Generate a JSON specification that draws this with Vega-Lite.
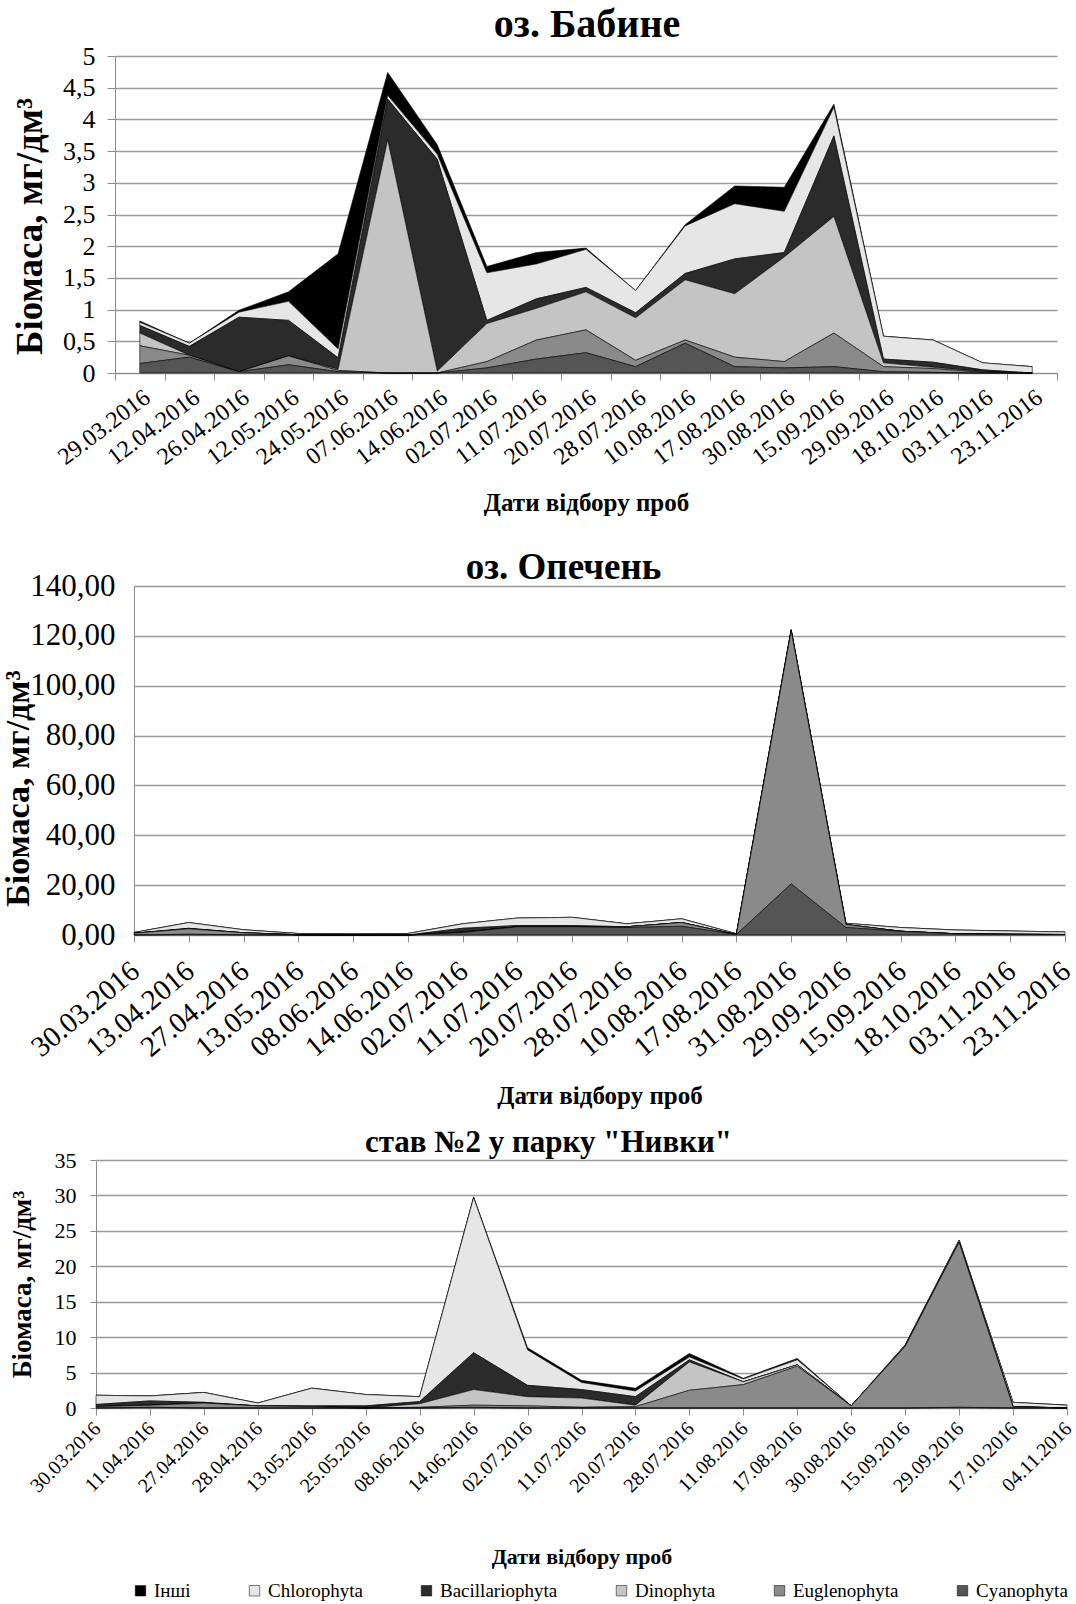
{
  "$schema": "https://vega.github.io/schema/vega-lite/v6.json",
  "background": "white",
  "padding": {"left": 0, "top": 5, "right": 0, "bottom": 2},
  "spacing": 0,
  "config": {
    "font": "Liberation Serif",
    "locale": {"number": {"decimal": ",", "thousands": " ", "grouping": [3], "currency": ["", ""]}},
    "view": {"stroke": null},
    "axis": {"labelColor": "#000", "titleColor": "#000", "domainColor": "#8c8c8c", "tickColor": "#8c8c8c", "gridColor": "#9a9a9a", "gridWidth": 1.5, "labelFont": "Liberation Serif", "titleFont": "Liberation Serif"},
    "title": {"font": "Liberation Serif", "fontWeight": "bold", "color": "#000", "anchor": "middle", "frame": "group"}
  },
  "datasets": {
    "ord": [
      {"t": "Cyanophyta", "k": 1}, {"t": "Euglenophyta", "k": 2}, {"t": "Dinophyta", "k": 3},
      {"t": "Bacillariophyta", "k": 4}, {"t": "Chlorophyta", "k": 5}, {"t": "Інші", "k": 6}
    ],
    "babyne": [
      {"d": "29.03.2016", "Cyanophyta": 0.15, "Euglenophyta": 0.28, "Dinophyta": 0.2, "Bacillariophyta": 0.12, "Chlorophyta": 0.05, "Інші": 0.02},
      {"d": "12.04.2016", "Cyanophyta": 0.25, "Euglenophyta": 0.03, "Dinophyta": 0, "Bacillariophyta": 0.14, "Chlorophyta": 0.05, "Інші": 0},
      {"d": "26.04.2016", "Cyanophyta": 0.02, "Euglenophyta": 0, "Dinophyta": 0, "Bacillariophyta": 0.86, "Chlorophyta": 0.08, "Інші": 0.03},
      {"d": "12.05.2016", "Cyanophyta": 0.13, "Euglenophyta": 0.14, "Dinophyta": 0, "Bacillariophyta": 0.56, "Chlorophyta": 0.3, "Інші": 0.15},
      {"d": "24.05.2016", "Cyanophyta": 0.02, "Euglenophyta": 0.02, "Dinophyta": 0.02, "Bacillariophyta": 0.18, "Chlorophyta": 0.14, "Інші": 1.5},
      {"d": "07.06.2016", "Cyanophyta": 0, "Euglenophyta": 0, "Dinophyta": 3.68, "Bacillariophyta": 0.64, "Chlorophyta": 0.06, "Інші": 0.36},
      {"d": "14.06.2016", "Cyanophyta": 0, "Euglenophyta": 0, "Dinophyta": 0.03, "Bacillariophyta": 3.34, "Chlorophyta": 0.08, "Інші": 0.15},
      {"d": "02.07.2016", "Cyanophyta": 0.08, "Euglenophyta": 0.1, "Dinophyta": 0.6, "Bacillariophyta": 0.05, "Chlorophyta": 0.75, "Інші": 0.1},
      {"d": "11.07.2016", "Cyanophyta": 0.22, "Euglenophyta": 0.3, "Dinophyta": 0.5, "Bacillariophyta": 0.15, "Chlorophyta": 0.55, "Інші": 0.18},
      {"d": "20.07.2016", "Cyanophyta": 0.32, "Euglenophyta": 0.36, "Dinophyta": 0.6, "Bacillariophyta": 0.07, "Chlorophyta": 0.6, "Інші": 0.02},
      {"d": "28.07.2016", "Cyanophyta": 0.1, "Euglenophyta": 0.1, "Dinophyta": 0.67, "Bacillariophyta": 0.08, "Chlorophyta": 0.35, "Інші": 0},
      {"d": "10.08.2016", "Cyanophyta": 0.47, "Euglenophyta": 0.05, "Dinophyta": 0.95, "Bacillariophyta": 0.1, "Chlorophyta": 0.75, "Інші": 0.02},
      {"d": "17.08.2016", "Cyanophyta": 0.1, "Euglenophyta": 0.15, "Dinophyta": 1.0, "Bacillariophyta": 0.55, "Chlorophyta": 0.87, "Інші": 0.28},
      {"d": "30.08.2016", "Cyanophyta": 0.08, "Euglenophyta": 0.1, "Dinophyta": 1.65, "Bacillariophyta": 0.07, "Chlorophyta": 0.65, "Інші": 0.38},
      {"d": "15.09.2016", "Cyanophyta": 0.1, "Euglenophyta": 0.53, "Dinophyta": 1.84, "Bacillariophyta": 1.27, "Chlorophyta": 0.45, "Інші": 0.05},
      {"d": "29.09.2016", "Cyanophyta": 0.02, "Euglenophyta": 0.08, "Dinophyta": 0.06, "Bacillariophyta": 0.06, "Chlorophyta": 0.36, "Інші": 0},
      {"d": "18.10.2016", "Cyanophyta": 0.01, "Euglenophyta": 0.06, "Dinophyta": 0.02, "Bacillariophyta": 0.08, "Chlorophyta": 0.35, "Інші": 0},
      {"d": "03.11.2016", "Cyanophyta": 0, "Euglenophyta": 0.01, "Dinophyta": 0.01, "Bacillariophyta": 0.03, "Chlorophyta": 0.11, "Інші": 0},
      {"d": "23.11.2016", "Cyanophyta": 0, "Euglenophyta": 0, "Dinophyta": 0, "Bacillariophyta": 0, "Chlorophyta": 0.1, "Інші": 0}
    ],
    "opechen": [
      {"d": "30.03.2016", "Cyanophyta": 0, "Euglenophyta": 0.7, "Dinophyta": 0, "Bacillariophyta": 0, "Chlorophyta": 0.3, "Інші": 0},
      {"d": "13.04.2016", "Cyanophyta": 0.3, "Euglenophyta": 2.2, "Dinophyta": 0, "Bacillariophyta": 0.2, "Chlorophyta": 2.3, "Інші": 0},
      {"d": "27.04.2016", "Cyanophyta": 0.1, "Euglenophyta": 0.8, "Dinophyta": 0, "Bacillariophyta": 0, "Chlorophyta": 1.2, "Інші": 0},
      {"d": "13.05.2016", "Cyanophyta": 0, "Euglenophyta": 0.1, "Dinophyta": 0, "Bacillariophyta": 0, "Chlorophyta": 0.5, "Інші": 0},
      {"d": "08.06.2016", "Cyanophyta": 0, "Euglenophyta": 0, "Dinophyta": 0, "Bacillariophyta": 0, "Chlorophyta": 0.5, "Інші": 0},
      {"d": "14.06.2016", "Cyanophyta": 0, "Euglenophyta": 0, "Dinophyta": 0, "Bacillariophyta": 0, "Chlorophyta": 0.6, "Інші": 0},
      {"d": "02.07.2016", "Cyanophyta": 1.0, "Euglenophyta": 0.2, "Dinophyta": 0, "Bacillariophyta": 1.5, "Chlorophyta": 1.8, "Інші": 0},
      {"d": "11.07.2016", "Cyanophyta": 3.3, "Euglenophyta": 0, "Dinophyta": 0, "Bacillariophyta": 0.5, "Chlorophyta": 3.0, "Інші": 0},
      {"d": "20.07.2016", "Cyanophyta": 3.3, "Euglenophyta": 0, "Dinophyta": 0, "Bacillariophyta": 0.5, "Chlorophyta": 3.3, "Інші": 0},
      {"d": "28.07.2016", "Cyanophyta": 3.0, "Euglenophyta": 0.3, "Dinophyta": 0, "Bacillariophyta": 0, "Chlorophyta": 1.2, "Інші": 0},
      {"d": "10.08.2016", "Cyanophyta": 3.5, "Euglenophyta": 1.5, "Dinophyta": 0, "Bacillariophyta": 0, "Chlorophyta": 1.5, "Інші": 0},
      {"d": "17.08.2016", "Cyanophyta": 0.2, "Euglenophyta": 0, "Dinophyta": 0, "Bacillariophyta": 0, "Chlorophyta": 0.3, "Інші": 0},
      {"d": "31.08.2016", "Cyanophyta": 20.5, "Euglenophyta": 101.5, "Dinophyta": 0, "Bacillariophyta": 0, "Chlorophyta": 0.5, "Інші": 0},
      {"d": "29.09.2016", "Cyanophyta": 3.0, "Euglenophyta": 1.2, "Dinophyta": 0, "Bacillariophyta": 0, "Chlorophyta": 0.5, "Інші": 0},
      {"d": "15.09.2016", "Cyanophyta": 1.5, "Euglenophyta": 0, "Dinophyta": 0, "Bacillariophyta": 0, "Chlorophyta": 1.5, "Інші": 0},
      {"d": "18.10.2016", "Cyanophyta": 0.5, "Euglenophyta": 0, "Dinophyta": 0, "Bacillariophyta": 0, "Chlorophyta": 1.5, "Інші": 0},
      {"d": "03.11.2016", "Cyanophyta": 0.3, "Euglenophyta": 0, "Dinophyta": 0, "Bacillariophyta": 0, "Chlorophyta": 1.3, "Інші": 0},
      {"d": "23.11.2016", "Cyanophyta": 0.2, "Euglenophyta": 0, "Dinophyta": 0, "Bacillariophyta": 0, "Chlorophyta": 1.0, "Інші": 0}
    ],
    "nyvky": [
      {"d": "30.03.2016", "Cyanophyta": 0, "Euglenophyta": 0.2, "Dinophyta": 0, "Bacillariophyta": 0.3, "Chlorophyta": 1.3, "Інші": 0},
      {"d": "11.04.2016", "Cyanophyta": 0.1, "Euglenophyta": 0.3, "Dinophyta": 0, "Bacillariophyta": 0.6, "Chlorophyta": 0.7, "Інші": 0},
      {"d": "27.04.2016", "Cyanophyta": 0, "Euglenophyta": 0.7, "Dinophyta": 0, "Bacillariophyta": 0.1, "Chlorophyta": 1.4, "Інші": 0},
      {"d": "28.04.2016", "Cyanophyta": 0, "Euglenophyta": 0.3, "Dinophyta": 0, "Bacillariophyta": 0, "Chlorophyta": 0.4, "Інші": 0},
      {"d": "13.05.2016", "Cyanophyta": 0, "Euglenophyta": 0.2, "Dinophyta": 0, "Bacillariophyta": 0.1, "Chlorophyta": 2.5, "Інші": 0},
      {"d": "25.05.2016", "Cyanophyta": 0, "Euglenophyta": 0, "Dinophyta": 0, "Bacillariophyta": 0.3, "Chlorophyta": 1.6, "Інші": 0},
      {"d": "08.06.2016", "Cyanophyta": 0, "Euglenophyta": 0.1, "Dinophyta": 0.5, "Bacillariophyta": 0.3, "Chlorophyta": 0.7, "Інші": 0},
      {"d": "14.06.2016", "Cyanophyta": 0.1, "Euglenophyta": 0.3, "Dinophyta": 2.2, "Bacillariophyta": 5.2, "Chlorophyta": 21.9, "Інші": 0.1},
      {"d": "02.07.2016", "Cyanophyta": 0, "Euglenophyta": 0.3, "Dinophyta": 1.3, "Bacillariophyta": 1.6, "Chlorophyta": 5.0, "Інші": 0.3},
      {"d": "11.07.2016", "Cyanophyta": 0, "Euglenophyta": 0.1, "Dinophyta": 1.3, "Bacillariophyta": 1.2, "Chlorophyta": 1.0, "Інші": 0.3},
      {"d": "20.07.2016", "Cyanophyta": 0, "Euglenophyta": 0.2, "Dinophyta": 0.2, "Bacillariophyta": 1.2, "Chlorophyta": 0.8, "Інші": 0.4},
      {"d": "28.07.2016", "Cyanophyta": 0, "Euglenophyta": 2.5, "Dinophyta": 4.0, "Bacillariophyta": 0.3, "Chlorophyta": 0.4, "Інші": 0.5},
      {"d": "11.08.2016", "Cyanophyta": 0, "Euglenophyta": 3.3, "Dinophyta": 0.4, "Bacillariophyta": 0, "Chlorophyta": 0.4, "Інші": 0.1},
      {"d": "17.08.2016", "Cyanophyta": 0, "Euglenophyta": 5.9, "Dinophyta": 0.2, "Bacillariophyta": 0, "Chlorophyta": 0.7, "Інші": 0.2},
      {"d": "30.08.2016", "Cyanophyta": 0, "Euglenophyta": 0.3, "Dinophyta": 0, "Bacillariophyta": 0, "Chlorophyta": 0, "Інші": 0},
      {"d": "15.09.2016", "Cyanophyta": 0, "Euglenophyta": 8.7, "Dinophyta": 0, "Bacillariophyta": 0, "Chlorophyta": 0.2, "Інші": 0},
      {"d": "29.09.2016", "Cyanophyta": 0.1, "Euglenophyta": 23.3, "Dinophyta": 0, "Bacillariophyta": 0, "Chlorophyta": 0.3, "Інші": 0},
      {"d": "17.10.2016", "Cyanophyta": 0, "Euglenophyta": 0.2, "Dinophyta": 0, "Bacillariophyta": 0, "Chlorophyta": 0.6, "Інші": 0},
      {"d": "04.11.2016", "Cyanophyta": 0, "Euglenophyta": 0, "Dinophyta": 0, "Bacillariophyta": 0, "Chlorophyta": 0.4, "Інші": 0}
    ]
  },
  "resolve": {"scale": {"color": "shared"}, "legend": {"color": "shared"}},
  "vconcat": [
    {
      "spacing": 0,
      "hconcat": [
        {"width": 11, "height": 493, "data": {"values": []}, "mark": "point", "encoding": {}},
        {
          "width": 942, "height": 317,
          "title": {"text": "оз. Бабине", "fontSize": 40, "offset": -2, "dx": 1},
          "data": {"name": "babyne"},
          "transform": [
            {"fold": ["Інші", "Chlorophyta", "Bacillariophyta", "Dinophyta", "Euglenophyta", "Cyanophyta"], "as": ["t", "v"]},
            {"lookup": "t", "from": {"data": {"name": "ord"}, "key": "t", "fields": ["k"]}}
          ],
          "mark": {"type": "area", "stroke": "#000", "strokeWidth": 0.6},
          "encoding": {
            "x": {"field": "d", "type": "ordinal", "sort": null,
                  "scale": {"type": "band", "paddingInner": 0, "paddingOuter": 0},
                  "axis": {"title": "Дати відбору проб", "titleFontSize": 25, "titleFontWeight": "bold", "titlePadding": 21,
                           "labelAngle": -37, "labelFontSize": 24, "tickBand": "extent", "tickSize": 7, "labelPadding": 5, "grid": false}},
            "y": {"field": "v", "type": "quantitative", "stack": "zero",
                  "scale": {"domain": [0, 5], "nice": false},
                  "axis": {"values": [0, 0.5, 1, 1.5, 2, 2.5, 3, 3.5, 4, 4.5, 5], "format": ".1~f", "labelFontSize": 26, "labelPadding": 12,
                           "minExtent": 58, "maxExtent": 58,
                           "title": "Біомаса, мг/дм³", "titleFontSize": 37, "titleFontWeight": "bold", "titlePadding": 8, "titleY": 170, "tickSize": 8, "grid": true}},
            "color": {"field": "t", "type": "nominal",
                      "scale": {"domain": ["Інші", "Chlorophyta", "Bacillariophyta", "Dinophyta", "Euglenophyta", "Cyanophyta"],
                                "range": ["#000000", "#e6e6e6", "#2b2b2b", "#c4c4c4", "#8a8a8a", "#555555"]},
                      "legend": {"orient": "none", "legendX": 131, "legendY": 1525, "direction": "horizontal", "title": null, "symbolType": "square", "symbolSize": 110,
                                 "labelFontSize": 19, "labelFont": "Liberation Serif", "columnPadding": 54, "symbolStrokeColor": "#000", "symbolStrokeWidth": 0.5}},
            "order": {"field": "k", "type": "quantitative"}
          }
        }
      ]
    },
    {
      "spacing": 0,
      "hconcat": [
        {"width": 1, "height": 541, "data": {"values": []}, "mark": "point", "encoding": {}},
        {
          "width": 931, "height": 349,
          "title": {"text": "оз. Опечень", "fontSize": 37, "offset": -17, "dx": -36},
          "data": {"name": "opechen"},
          "transform": [
            {"fold": ["Інші", "Chlorophyta", "Bacillariophyta", "Dinophyta", "Euglenophyta", "Cyanophyta"], "as": ["t", "v"]},
            {"lookup": "t", "from": {"data": {"name": "ord"}, "key": "t", "fields": ["k"]}}
          ],
          "mark": {"type": "area", "stroke": "#000", "strokeWidth": 0.6},
          "encoding": {
            "x": {"field": "d", "type": "ordinal", "sort": null,
                  "scale": {"type": "point", "padding": 0},
                  "axis": {"title": "Дати відбору проб", "titleFontSize": 25, "titleFontWeight": "bold", "titlePadding": 21,
                           "labelAngle": -40, "labelFontSize": 29, "tickSize": 7, "labelPadding": 14, "labelOffset": -8, "grid": false}},
            "y": {"field": "v", "type": "quantitative", "stack": "zero",
                  "scale": {"domain": [0, 140], "nice": false},
                  "axis": {"values": [0, 20, 40, 60, 80, 100, 120, 140], "format": ".2f", "labelFontSize": 31, "labelPadding": 19,
                           "minExtent": 91, "maxExtent": 91,
                           "title": "Біомаса, мг/дм³", "titleFontSize": 34, "titleFontWeight": "bold", "titlePadding": 8, "titleY": 202, "tickSize": 0, "grid": true}},
            "color": {"field": "t", "type": "nominal"},
            "order": {"field": "k", "type": "quantitative"}
          }
        }
      ]
    },
    {
      "spacing": 0,
      "hconcat": [
        {"width": 8, "height": 10, "data": {"values": []}, "mark": "point", "encoding": {}},
        {
          "width": 971, "height": 248,
          "title": {"text": "став №2 у парку \"Нивки\"", "fontSize": 31, "offset": -10, "dx": -33},
          "data": {"name": "nyvky"},
          "transform": [
            {"fold": ["Інші", "Chlorophyta", "Bacillariophyta", "Dinophyta", "Euglenophyta", "Cyanophyta"], "as": ["t", "v"]},
            {"lookup": "t", "from": {"data": {"name": "ord"}, "key": "t", "fields": ["k"]}}
          ],
          "mark": {"type": "area", "stroke": "#000", "strokeWidth": 0.6},
          "encoding": {
            "x": {"field": "d", "type": "ordinal", "sort": null,
                  "scale": {"type": "point", "padding": 0},
                  "axis": {"title": "Дати відбору проб", "titleFontSize": 22, "titleFontWeight": "bold", "titlePadding": 51,
                           "labelAngle": -45, "labelFontSize": 20, "tickSize": 7, "labelPadding": 3, "labelOffset": -6, "grid": false}},
            "y": {"field": "v", "type": "quantitative", "stack": "zero",
                  "scale": {"domain": [0, 35], "nice": false},
                  "axis": {"values": [0, 5, 10, 15, 20, 25, 30, 35], "format": "d", "labelFontSize": 22, "labelPadding": 14,
                           "minExtent": 52, "maxExtent": 52,
                           "title": "Біомаса, мг/дм³", "titleFontSize": 27, "titleFontWeight": "bold", "titlePadding": 8, "tickSize": 6, "grid": true}},
            "color": {"field": "t", "type": "nominal"},
            "order": {"field": "k", "type": "quantitative"}
          }
        }
      ]
    }
  ]
}
